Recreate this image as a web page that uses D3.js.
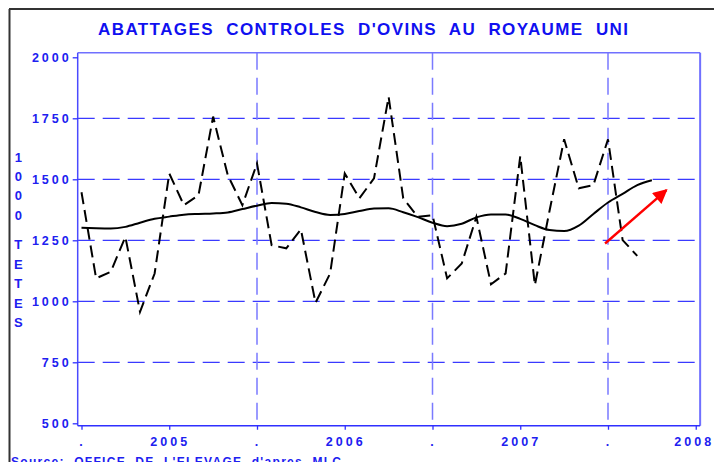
<!DOCTYPE html>
<html>
<head>
<meta charset="utf-8">
<script src="https://cdn.jsdelivr.net/npm/d3@7/dist/d3.min.js"></script>
<style>
	body { margin: 0; background: #fff; }
	text { font-family: "Liberation Sans", Arial, sans-serif; font-weight: bold; }
</style>
</head>
<body>
<div id="chart"></div>
<script>
/** Data (milliers de tetes, monthly) **/
var abattages = [1447, 1094, 1121, 1264, 957, 1114, 1524, 1394, 1435, 1757, 1517, 1394,
	1565, 1230, 1217, 1295, 994, 1114, 1524, 1422, 1504, 1838, 1422, 1346,
	1353, 1094, 1155, 1346, 1070, 1114, 1595, 1066, 1370, 1664, 1463, 1476,
	1664, 1251, 1186];
// Moving average (solid curve)
var moyenne = [1301, 1299, 1298, 1305, 1322, 1338, 1347, 1355, 1358, 1360, 1364, 1378,
	1392, 1403, 1400, 1385, 1366, 1354, 1358, 1370, 1380, 1381, 1365, 1345,
	1322, 1308, 1318, 1344, 1356, 1356, 1338, 1312, 1292, 1288, 1310, 1358,
	1405, 1440, 1476, 1496];

var xTickPos = [0, 6, 12, 18, 24, 30, 36, 42];
var xTickLabels = [".", "2005", ".", "2006", ".", "2007", ".", "2008"];
var yTicks = [500, 750, 1000, 1250, 1500, 1750, 2000];
var yGrid = [750, 1000, 1250, 1500, 1750];
var xGrid = [12, 24, 36];

// red arrow annotation (month index, value)
var arrowFrom = [35.8, 1237];
var arrowTo = [40, 1456];

var titleText = "ABATTAGES  CONTROLES  D'OVINS  AU  ROYAUME  UNI";
var yLabelTop = ["1", "0", "0", "0"];
var yLabelBottom = ["T", "E", "T", "E", "S"];
var sourceText = "Source:  OFFICE  DE  L'ELEVAGE  d'apres  MLC";

function drawChart()
{
	var width = 714;
	var height = 462;
	var blue = "#2020f0";

	var svg = d3.select("#chart")
		.append("svg")
		.attr("width", width)
		.attr("height", height);

	var x = d3.scaleLinear().domain([0, 42]).range([81.5, 695.75]);
	var y = d3.scaleLinear().domain([500, 2000]).range([423.3, 57.3]);

	// plot frame edges (slightly wider than the data domain)
	var left = x(-0.26), right = x(42.3);
	var top = y(2019), bottom = y(490);

	// outer black frame
	svg.append("line")
		.attr("x1", 9.5).attr("x2", 9.5).attr("y1", 9).attr("y2", height)
		.attr("stroke", "#333").attr("stroke-width", 2);
	svg.append("line")
		.attr("x1", 9).attr("x2", width).attr("y1", 9).attr("y2", 9)
		.attr("stroke", "#333").attr("stroke-width", 2);

	// title
	svg.append("text")
		.attr("x", 98).attr("y", 34.7)
		.attr("textLength", 530).attr("lengthAdjust", "spacing")
		.attr("font-size", 17)
		.attr("fill", "#1010f0")
		.style("white-space", "pre")
		.text(titleText);

	// gridlines
	svg.append("g")
		.selectAll("line")
		.data(yGrid)
		.enter()
		.append("line")
		.attr("x1", left).attr("x2", right)
		.attr("y1", function(d) { return y(d); })
		.attr("y2", function(d) { return y(d); })
		.attr("stroke", "#3a3aff")
		.attr("stroke-width", 1.3)
		.attr("stroke-dasharray", "17,8");

	svg.append("g")
		.selectAll("line")
		.data(xGrid)
		.enter()
		.append("line")
		.attr("x1", function(d) { return x(d); })
		.attr("x2", function(d) { return x(d); })
		.attr("y1", top).attr("y2", bottom)
		.attr("stroke", "#7a7aff")
		.attr("stroke-width", 1.5)
		.attr("stroke-dasharray", "17,8");

	// frame of the plot
	svg.append("line")
		.attr("x1", left).attr("x2", right).attr("y1", top).attr("y2", top)
		.attr("stroke", "#7070ff").attr("stroke-width", 1.5);
	svg.append("line")
		.attr("x1", right).attr("x2", right).attr("y1", top).attr("y2", bottom)
		.attr("stroke", "#7070ff").attr("stroke-width", 2);
	svg.append("line")
		.attr("x1", left).attr("x2", left).attr("y1", top).attr("y2", bottom)
		.attr("stroke", "#4a4aff").attr("stroke-width", 1.5);
	svg.append("line")
		.attr("x1", left).attr("x2", right).attr("y1", bottom).attr("y2", bottom)
		.attr("stroke", "#3030ff").attr("stroke-width", 1.5);

	// y axis
	var yAxis = svg.append("g")
		.attr("transform", "translate(" + left + ",0)")
		.call(d3.axisLeft(y).tickValues(yTicks).tickFormat(d3.format("d"))
			.tickSize(5).tickSizeOuter(0).tickPadding(4));
	yAxis.select(".domain").remove();
	yAxis.selectAll("line").attr("stroke", "#3030ff").attr("stroke-width", 1.3);
	yAxis.selectAll("text")
		.attr("fill", blue)
		.attr("font-size", 12.5)
		.attr("font-family", "Liberation Sans, Arial, sans-serif")
		.attr("font-weight", "bold")
		.attr("letter-spacing", "3px")
		.attr("dx", 3);

	// x axis
	var xAxis = svg.append("g")
		.attr("transform", "translate(0," + bottom + ")")
		.call(d3.axisBottom(x).tickValues(xTickPos).tickSize(4).tickSizeOuter(0).tickPadding(7)
			.tickFormat(function(d, i) { return xTickLabels[i]; }));
	xAxis.select(".domain").remove();
	xAxis.selectAll("line").attr("stroke", "#3030ff").attr("stroke-width", 1.3);
	xAxis.selectAll("text")
		.attr("fill", blue)
		.attr("font-size", 12.5)
		.attr("font-family", "Liberation Sans, Arial, sans-serif")
		.attr("font-weight", "bold")
		.attr("letter-spacing", "3px")
		// last label sits against the right edge, pull it in a little
		.attr("dx", function(d, i) { return i == xTickPos.length - 1 ? -2 : 0.5; });

	// vertical y label
	svg.append("g")
		.selectAll("text")
		.data(yLabelTop)
		.enter()
		.append("text")
		.attr("x", 18.3)
		.attr("y", function(d, i) { return 161.5 + i * 19.4; })
		.attr("text-anchor", "middle")
		.attr("font-size", 13)
		.attr("fill", blue)
		.text(function(d) { return d; });
	svg.append("g")
		.selectAll("text")
		.data(yLabelBottom)
		.enter()
		.append("text")
		.attr("x", 18.3)
		.attr("y", function(d, i) { return 249 + i * 19.5; })
		.attr("text-anchor", "middle")
		.attr("font-size", 13)
		.attr("fill", blue)
		.text(function(d) { return d; });

	// series
	var lineDash = d3.line()
		.x(function(d, i) { return x(i); })
		.y(function(d) { return y(d); });
	var lineSmooth = d3.line()
		.x(function(d, i) { return x(i); })
		.y(function(d) { return y(d); })
		.curve(d3.curveMonotoneX);

	svg.append("path")
		.datum(moyenne)
		.attr("d", lineSmooth)
		.attr("fill", "none")
		.attr("stroke", "#000")
		.attr("stroke-width", 2);

	svg.append("path")
		.datum(abattages)
		.attr("d", lineDash)
		.attr("fill", "none")
		.attr("stroke", "#000")
		.attr("stroke-width", 2)
		.attr("stroke-dasharray", "12,6");

	// red arrow
	svg.append("defs")
		.append("marker")
		.attr("id", "head")
		.attr("viewBox", "0 0 10 10")
		.attr("refX", 9).attr("refY", 5)
		.attr("markerWidth", 7).attr("markerHeight", 6)
		.attr("markerUnits", "strokeWidth")
		.attr("orient", "auto")
		.append("path")
		.attr("d", "M0,0L10,5L0,10Z")
		.attr("fill", "#ff0000");

	svg.append("line")
		.attr("x1", x(arrowFrom[0])).attr("y1", y(arrowFrom[1]))
		.attr("x2", x(arrowTo[0])).attr("y2", y(arrowTo[1]))
		.attr("stroke", "#ff0000")
		.attr("stroke-width", 2.4)
		.attr("marker-end", "url(#head)");

	// source
	svg.append("text")
		.attr("x", 11).attr("y", 466)
		.attr("textLength", 330).attr("lengthAdjust", "spacing")
		.attr("font-size", 12)
		.attr("fill", blue)
		.style("white-space", "pre")
		.text(sourceText);
}

drawChart();
</script>
</body>
</html>
